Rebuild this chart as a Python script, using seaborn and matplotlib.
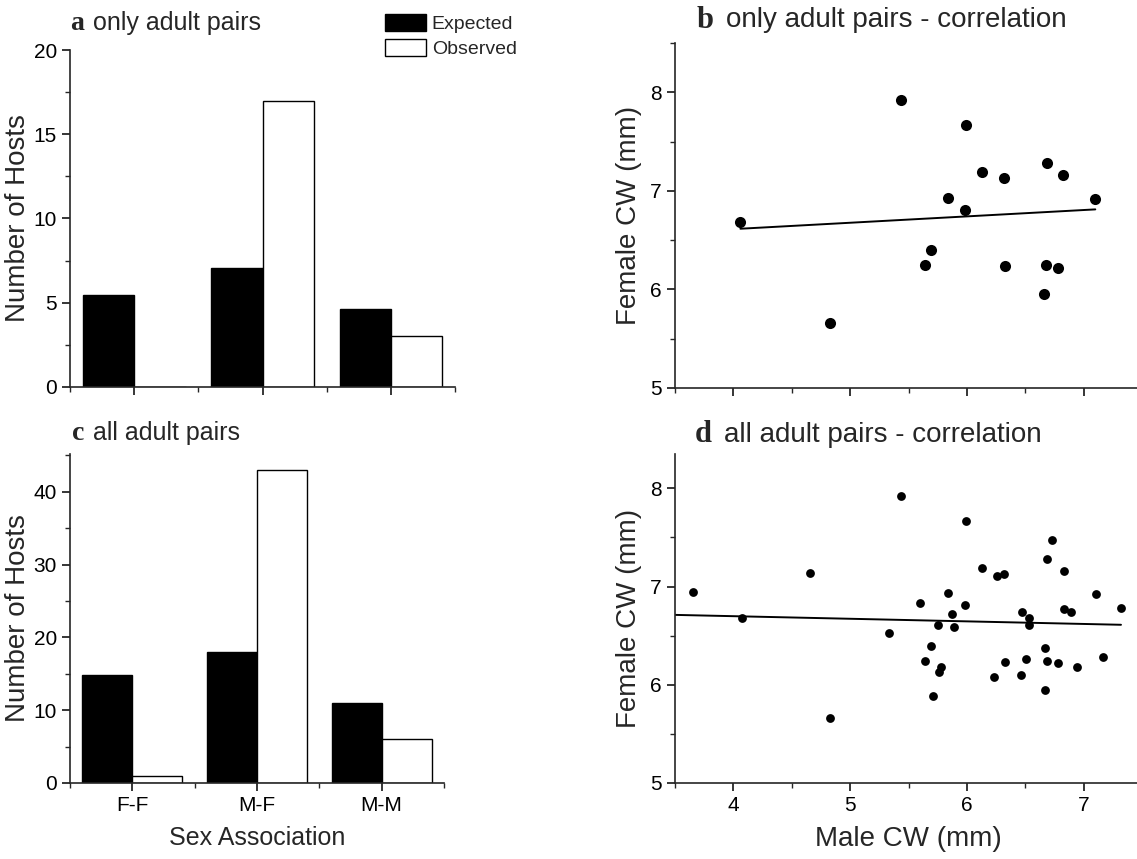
import numpy as np
import pandas as pd
import matplotlib
matplotlib.use("Agg")
import matplotlib.pyplot as plt
from matplotlib.ticker import MultipleLocator, FixedLocator
import seaborn as sns

# ---- data ----
associations = ["F-F", "M-F", "M-M"]
kinds = ["Expected", "Observed"]

adult_expected = [5.45, 7.05, 4.6]
adult_observed = [0, 17, 3]
all_expected = [14.8, 18, 11]
all_observed = [1, 43, 6]

# panel b: only adult pairs
b_male = [4.06, 4.83, 5.44, 5.99, 6.13, 6.32, 5.84, 5.98, 6.69, 6.82, 7.10,
          5.69, 5.64, 6.33, 6.68, 6.78, 6.66]
b_female = [6.68, 5.66, 7.92, 7.67, 7.19, 7.13, 6.93, 6.81, 7.28, 7.16, 6.92,
            6.40, 6.25, 6.24, 6.25, 6.22, 5.95]

# panel d: all adult pairs
d_male = [3.65, 4.07, 4.66, 4.83, 5.33, 5.44, 5.60, 5.84, 5.87, 5.98, 5.99,
          5.75, 5.89, 5.69, 5.64, 5.78, 5.76, 5.71, 6.13, 6.26, 6.32, 6.23,
          6.33, 6.47, 6.53, 6.53, 6.46, 6.51, 6.73, 6.69, 6.83, 6.83, 6.89,
          6.67, 6.69, 6.78, 6.94, 6.67, 7.11, 7.17, 7.32]
d_female = [6.94, 6.68, 7.14, 5.66, 6.53, 7.92, 6.83, 6.93, 6.72, 6.81, 7.67,
            6.61, 6.59, 6.40, 6.24, 6.18, 6.13, 5.89, 7.19, 7.11, 7.13, 6.08,
            6.23, 6.74, 6.68, 6.61, 6.10, 6.26, 7.47, 7.28, 7.16, 6.77, 6.74,
            6.37, 6.24, 6.22, 6.18, 5.95, 6.92, 6.28, 6.78]


def bar_frame(expected, observed):
    return pd.DataFrame({
        "assoc": associations * 2,
        "kind": [kinds[0]] * 3 + [kinds[1]] * 3,
        "n": list(expected) + list(observed),
    })


sns.set_style("ticks")
plt.rcParams["font.family"] = ["Liberation Sans", "DejaVu Sans"]
plt.rcParams["axes.linewidth"] = 1.2
plt.rcParams["xtick.direction"] = "out"
plt.rcParams["ytick.direction"] = "out"

W, H = 1137, 859
fig = plt.figure(figsize=(W / 100, H / 100), dpi=100)


def add_axes(x0, y_top, x1, y_bot):
    # pixel box -> figure fraction
    return fig.add_axes([x0 / W, 1 - y_bot / H, (x1 - x0) / W, (y_bot - y_top) / H])


ax_a = add_axes(70, 50, 455, 387)
ax_c = add_axes(70, 454, 444, 783)
ax_b = add_axes(675, 43, 1142, 388)
ax_d = add_axes(675, 454, 1142, 783)

tick_fs = 15


def style_ticks(ax):
    sns.despine(ax=ax)
    ax.tick_params(which="major", length=6, width=1.1, labelsize=tick_fs, colors="black")
    ax.tick_params(which="minor", length=3.5, width=1.0)


def bar_panel(ax, expected, observed, ymax, major, minor, show_labels, legend):
    sns.barplot(data=bar_frame(expected, observed), x="assoc", y="n", hue="kind",
                hue_order=kinds, palette=["black", "white"], edgecolor="black",
                linewidth=1.0, width=0.8, ax=ax, legend=legend, errorbar=None)
    ax.set_xlim(-0.5, 2.5)
    ax.set_ylim(0, ymax)
    ax.yaxis.set_major_locator(MultipleLocator(major))
    ax.yaxis.set_minor_locator(MultipleLocator(minor))
    ax.xaxis.set_minor_locator(FixedLocator([-0.5, 0.5, 1.5, 2.5]))
    style_ticks(ax)
    ax.set_ylabel("Number of Hosts", fontsize=20, labelpad=2)
    if show_labels:
        ax.set_xlabel("Sex Association", fontsize=18, labelpad=8)
    else:
        ax.set_xlabel("")
        ax.set_xticklabels([])


def scatter_panel(ax, male, female, ymax, size, line_from, show_labels):
    sns.scatterplot(x=male, y=female, ax=ax, s=size, color="black", linewidth=0)
    # least-squares fit line
    slope, icept = np.polyfit(male, female, 1)
    fit_x = np.array([line_from, max(male)])
    sns.lineplot(x=fit_x, y=icept + slope * fit_x, ax=ax, color="black", linewidth=1.4)
    ax.set_xlim(3.5, 7.5)
    ax.set_ylim(5, ymax)
    ax.xaxis.set_major_locator(MultipleLocator(1))
    ax.xaxis.set_minor_locator(MultipleLocator(0.5))
    ax.yaxis.set_major_locator(MultipleLocator(1))
    ax.yaxis.set_minor_locator(MultipleLocator(0.5))
    style_ticks(ax)
    ax.set_ylabel("Female CW (mm)", fontsize=20, labelpad=6)
    if show_labels:
        ax.set_xlabel("Male CW (mm)", fontsize=20, labelpad=8)
    else:
        ax.set_xticklabels([])


bar_panel(ax_a, adult_expected, adult_observed, 20, 5, 2.5, False, True)
bar_panel(ax_c, all_expected, all_observed, 45.2, 10, 5, True, False)
scatter_panel(ax_b, b_male, b_female, 8.5, 64, min(b_male), False)
scatter_panel(ax_d, d_male, d_female, 8.35, 40, 3.5, True)

# legend above panel a
handles, labels = ax_a.get_legend_handles_labels()
ax_a.legend(handles, labels, loc="upper left", bbox_to_anchor=(385 / W, 1 - 14 / H),
            bbox_transform=fig.transFigure, frameon=False, fontsize=14,
            handlelength=2.1, handleheight=0.95, handletextpad=0.3,
            labelspacing=0.3, borderpad=0, borderaxespad=0)

# panel titles: bold serif letter + sans text
titles = [("a", "only adult pairs", 70, 23, 23, 18),
          ("b", "only adult pairs - correlation", 697, 20, 29, 20),
          ("c", "all adult pairs", 72, 433, 21, 18),
          ("d", "all adult pairs - correlation", 695, 435, 29, 20)]
for letter, text, px, py, gap, fs in titles:
    fig.text(px / W, 1 - py / H, letter, fontsize=fs + 2, fontweight="bold",
             family=["Liberation Serif", "DejaVu Serif"], va="center", ha="left")
    fig.text((px + gap) / W, 1 - py / H, text, fontsize=fs, va="center", ha="left")

fig.savefig("out.png", dpi=100)
